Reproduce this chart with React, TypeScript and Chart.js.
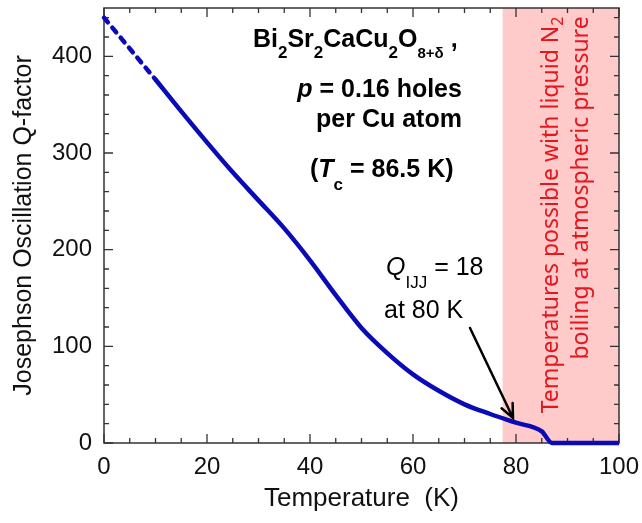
import React, { useEffect, useRef } from 'react';
import { Chart, registerables } from 'chart.js';

Chart.register(...registerables);

// ---- data ----
const temperatureK = [10, 15, 20, 25, 30, 35, 40, 45, 50, 55, 60, 65, 70, 75, 80, 85, 87, 100];
const qFactor = [376, 343, 311, 280, 251, 222, 189, 153, 119, 93, 71, 54, 40, 30, 21, 12, 0, 0];
const extrapTemperatureK = [0, 10];
const extrapQFactor = [440, 376];
const nitrogenBoilingK = 77.4;
const xRange = [0, 100];
const yRange = [0, 450];
const xMajorStep = 20;
const xMinorStep = 5;
const yMajorStep = 100;
const yMinorStep = 20;

const SANS = '"Liberation Sans", Arial, sans-serif';
const RED_FONT = '"Noto Sans", sans-serif';
const BLUE = '#0a0ab8';
const RED = '#e3171e';

type Run = { t: string; size: number; weight?: string; style?: string; dy?: number; family?: string };

function fontOf(r: Run) {
  return `${r.style || 'normal'} ${r.weight || 'normal'} ${r.size}px ${r.family || SANS}`;
}

function drawRuns(ctx: CanvasRenderingContext2D, runs: Run[], x: number, y: number, align: 'left' | 'right' | 'center') {
  const widths = runs.map((r) => {
    ctx.font = fontOf(r);
    return ctx.measureText(r.t).width;
  });
  const total = widths.reduce((a, b) => a + b, 0);
  let cx = align === 'left' ? x : align === 'right' ? x - total : x - total / 2;
  ctx.textAlign = 'left';
  ctx.textBaseline = 'alphabetic';
  runs.forEach((r, i) => {
    ctx.font = fontOf(r);
    ctx.fillText(r.t, cx, y + (r.dy || 0));
    cx += widths[i];
  });
}

const framePlugin = {
  id: 'frameAndShade',
  beforeDatasetsDraw(chart: any) {
    const { ctx, chartArea: a, scales } = chart;
    const xs = scales.x;
    const ys = scales.y;
    ctx.save();
    // liquid nitrogen region
    const x0 = xs.getPixelForValue(nitrogenBoilingK);
    const x1 = xs.getPixelForValue(xRange[1]);
    ctx.fillStyle = '#ffcaca';
    ctx.fillRect(x0, a.top, x1 - x0, a.bottom - a.top);

    // red rotated text
    ctx.fillStyle = RED;
    const l1x = xs.getPixelForValue(88.16);
    const l1y = ys.getPixelForValue(235.9);
    ctx.save();
    ctx.translate(l1x, l1y);
    ctx.rotate(-Math.PI / 2);
    drawRuns(ctx, [
      { t: 'Temperatures possible with liquid N', size: 23, family: RED_FONT },
      { t: '2', size: 16, family: RED_FONT, dy: 5 },
    ], 0, 0, 'center');
    ctx.restore();
    const l2x = xs.getPixelForValue(93.98);
    const l2y = ys.getPixelForValue(263.8);
    ctx.save();
    ctx.translate(l2x, l2y);
    ctx.rotate(-Math.PI / 2);
    drawRuns(ctx, [{ t: 'boiling at atmospheric pressure', size: 23, family: RED_FONT }], 0, 0, 'center');
    ctx.restore();

    // frame
    ctx.strokeStyle = '#333';
    ctx.lineWidth = 1.5;
    ctx.strokeRect(a.left, a.top, a.right - a.left, a.bottom - a.top);
    // ticks
    ctx.lineWidth = 1.3;
    ctx.beginPath();
    for (let v = xRange[0]; v <= xRange[1] + 1e-9; v += xMinorStep) {
      const len = Math.abs(v % xMajorStep) < 1e-9 ? 9 : 5;
      const px = xs.getPixelForValue(v);
      ctx.moveTo(px, a.bottom);
      ctx.lineTo(px, a.bottom - len);
      ctx.moveTo(px, a.top);
      ctx.lineTo(px, a.top + len);
    }
    for (let v = yRange[0]; v <= yRange[1] + 1e-9; v += yMinorStep) {
      const len = Math.abs(v % yMajorStep) < 1e-9 ? 9 : 5;
      const py = ys.getPixelForValue(v);
      ctx.moveTo(a.left, py);
      ctx.lineTo(a.left + len, py);
      ctx.moveTo(a.right, py);
      ctx.lineTo(a.right - len, py);
    }
    ctx.stroke();
    ctx.restore();
  },
  afterDatasetsDraw(chart: any) {
    const { ctx, chartArea: a, scales } = chart;
    const xs = scales.x;
    const ys = scales.y;
    const P = (x: number, y: number) => [xs.getPixelForValue(x), ys.getPixelForValue(y)];
    ctx.save();
    ctx.fillStyle = '#000';

    let [px, py] = P(28.93, 409.6);
    drawRuns(ctx, [
      { t: 'Bi', size: 25, weight: 'bold' },
      { t: '2', size: 17, weight: 'bold', dy: 11 },
      { t: 'Sr', size: 25, weight: 'bold' },
      { t: '2', size: 17, weight: 'bold', dy: 11 },
      { t: 'CaCu', size: 25, weight: 'bold' },
      { t: '2', size: 17, weight: 'bold', dy: 11 },
      { t: 'O', size: 25, weight: 'bold' },
      { t: '8+δ', size: 15, weight: 'bold', dy: 11 },
      { t: ' ,', size: 25, weight: 'bold' },
    ], px, py, 'left');

    [px, py] = P(69.5, 357.9);
    drawRuns(ctx, [
      { t: 'p', size: 25, weight: 'bold', style: 'italic' },
      { t: ' = 0.16 holes', size: 25, weight: 'bold' },
    ], px, py, 'right');
    [px, py] = P(69.5, 326.9);
    drawRuns(ctx, [{ t: 'per Cu atom', size: 25, weight: 'bold' }], px, py, 'right');

    [px, py] = P(40.0, 275.2);
    drawRuns(ctx, [
      { t: '(', size: 25, weight: 'bold' },
      { t: 'T', size: 25, weight: 'bold', style: 'italic' },
      { t: 'c', size: 17, weight: 'bold', dy: 13 },
      { t: ' = 86.5 K)', size: 25, weight: 'bold' },
    ], px, py, 'left');

    [px, py] = P(54.76, 173.8);
    drawRuns(ctx, [
      { t: 'Q', size: 25, style: 'italic' },
      { t: 'IJJ', size: 17, dy: 13 },
      { t: ' = 18', size: 25 },
    ], px, py, 'left');
    [px, py] = P(54.37, 129.8);
    drawRuns(ctx, [{ t: 'at 80 K', size: 25 }], px, py, 'left');

    // arrow
    const [ax0, ay0] = P(71.07, 119.0);
    const [ax1, ay1] = P(79.42, 25.9);
    ctx.strokeStyle = '#000';
    ctx.lineWidth = 2.5;
    ctx.lineCap = 'round';
    ctx.beginPath();
    ctx.moveTo(ax0, ay0);
    ctx.lineTo(ax1, ay1);
    const ang = Math.atan2(ay1 - ay0, ax1 - ax0);
    const hl = 15;
    const spread = 0.42;
    ctx.moveTo(ax1 - hl * Math.cos(ang - spread), ay1 - hl * Math.sin(ang - spread));
    ctx.lineTo(ax1, ay1);
    ctx.lineTo(ax1 - hl * Math.cos(ang + spread), ay1 - hl * Math.sin(ang + spread));
    ctx.stroke();

    // axis titles
    ctx.fillStyle = '#111';
    drawRuns(ctx, [{ t: 'Temperature  (K)', size: 26 }], (a.left + a.right) / 2, a.bottom + 63, 'center');
    ctx.save();
    ctx.translate(a.left - 73, (a.top + a.bottom) / 2);
    ctx.rotate(-Math.PI / 2);
    drawRuns(ctx, [{ t: 'Josephson Oscillation Q-factor', size: 25 }], 0, 0, 'center');
    ctx.restore();
    ctx.restore();
  },
};

const zeroPadding = (s: any) => {
  s.paddingTop = 0;
  s.paddingBottom = 0;
  s.paddingLeft = 0;
  s.paddingRight = 0;
};

export default function App() {
  const ref = useRef<HTMLCanvasElement | null>(null);
  useEffect(() => {
    if (!ref.current) return;
    const chart = new Chart(ref.current, {
      type: 'scatter',
      data: {
        datasets: [
          {
            data: extrapTemperatureK.map((x, i) => ({ x, y: extrapQFactor[i] })),
            showLine: true,
            borderColor: BLUE,
            borderWidth: 4.5,
            borderDash: [6, 7],
            borderCapStyle: 'round',
            pointRadius: 0,
            clip: 6,
          } as any,
          {
            data: temperatureK.map((x, i) => ({ x, y: qFactor[i] })),
            showLine: true,
            borderColor: BLUE,
            borderWidth: 4.5,
            cubicInterpolationMode: 'monotone',
            pointRadius: 0,
            clip: 6,
          } as any,
        ],
      },
      options: {
        animation: false,
        responsive: false,
        layout: { padding: { left: 0, right: 23, top: 8, bottom: 0 } },
        plugins: { legend: { display: false }, tooltip: { enabled: false }, title: { display: false } },
        scales: {
          x: {
            type: 'linear',
            min: xRange[0],
            max: xRange[1],
            grid: { display: false, drawTicks: false },
            border: { display: false },
            ticks: { stepSize: xMajorStep, padding: 10, color: '#111', font: { size: 24, family: SANS } },
            afterFit: (s: any) => { s.height = 80; zeroPadding(s); },
          },
          y: {
            type: 'linear',
            min: yRange[0],
            max: yRange[1],
            grid: { display: false, drawTicks: false },
            border: { display: false },
            ticks: { stepSize: yMajorStep, includeBounds: false, padding: 12, color: '#111', font: { size: 24, family: SANS } },
            afterFit: (s: any) => { s.width = 104; zeroPadding(s); },
          },
        },
      } as any,
      plugins: [framePlugin],
    });
    return () => chart.destroy();
  }, []);
  return (
    <div style={{ position: 'absolute', left: 0, top: 0, width: 642, height: 523, background: '#fff' }}>
      <canvas ref={ref} width={642} height={523} />
    </div>
  );
}
